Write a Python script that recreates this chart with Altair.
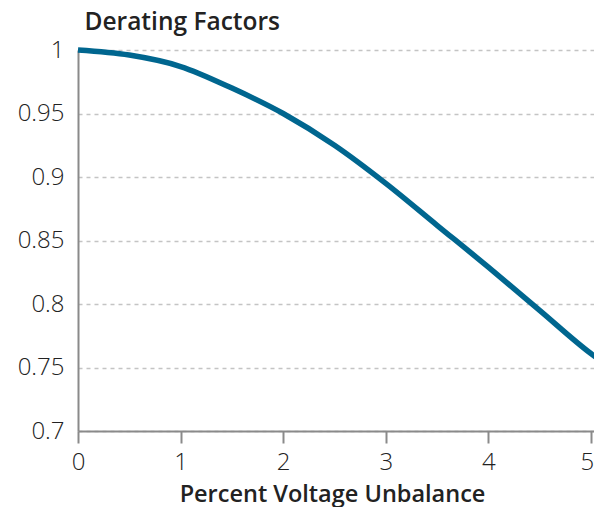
import altair as alt
import pandas as pd

unbalance = [0.0, 0.5, 1.0, 1.5, 2.0, 2.5, 3.0, 3.5, 4.0, 4.5, 5.0, 5.05]
derating = [1.000, 0.996, 0.987, 0.970, 0.950, 0.925, 0.895, 0.862, 0.829, 0.795, 0.761, 0.758]

x_ticks = [0, 1, 2, 3, 4, 5]
y_ticks = [0.7, 0.75, 0.8, 0.85, 0.9, 0.95, 1.0]

df = pd.DataFrame({"unbalance": unbalance, "derating": derating})

FONT = "Open Sans"

chart = alt.Chart(df).mark_line(
    color="#00668f", strokeWidth=5.5, interpolate="monotone", strokeCap="butt"
).encode(
    x=alt.X(
        "unbalance:Q",
        scale=alt.Scale(domain=[0, 5.03], nice=False, zero=False),
        axis=alt.Axis(
            values=x_ticks,
            title="Percent Voltage Unbalance",
            grid=False,
            domainColor="#8a8a8a",
            domainWidth=2,
            tickColor="#8a8a8a",
            tickWidth=2,
            tickSize=12,
            labelFont=FONT,
            labelFontWeight=300,
            labelFontSize=24,
            labelColor="#222222",
            labelPadding=7,
            labelOffset=alt.expr("datum.value == 5 ? -4 : 0"),
            titleFont=FONT,
            titleFontWeight=600,
            titleFontSize=23.5,
            titleColor="#222222",
            titleBaseline="alphabetic",
            titleX=254,
            titleY=70,
            labelFlush=False,
        ),
    ),
    y=alt.Y(
        "derating:Q",
        scale=alt.Scale(domain=[0.7, 1.0], nice=False, zero=False),
        axis=alt.Axis(
            values=y_ticks,
            format="~g",
            title="Derating Factors",
            titleAngle=0,
            titleAlign="left",
            titleBaseline="alphabetic",
            titleX=6,
            titleY=-21,
            grid=True,
            gridColor="#c4c4c4",
            gridDash=[4, 4],
            gridWidth=1.5,
            domainColor="#8a8a8a",
            domainWidth=2,
            ticks=False,
            labelFont=FONT,
            labelFontWeight=300,
            labelFontSize=24,
            labelColor="#222222",
            labelPadding=14,
            titleFont=FONT,
            titleFontWeight=600,
            titleFontSize=24.5,
            titleColor="#222222",
        ),
    ),
).properties(
    width=516,
    height=381,
    autosize=alt.AutoSizeParams(type="none"),
    padding={"left": 70, "top": 42, "right": 0, "bottom": 76},
).configure_view(stroke=None)

chart.save("out.html", embed_options={"renderer": "svg", "actions": False})
